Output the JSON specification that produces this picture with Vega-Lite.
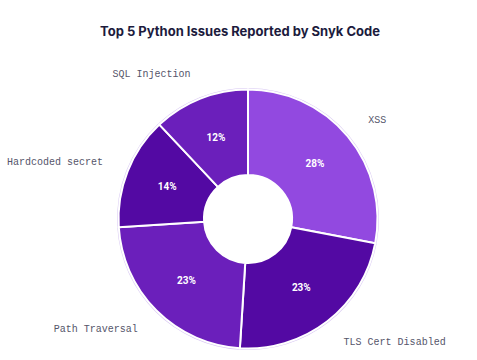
{
  "$schema": "https://vega.github.io/schema/vega-lite/v6.json",
  "width": 496,
  "height": 282,
  "autosize": {"type": "none"},
  "padding": {"top": 78, "left": 0, "right": 0, "bottom": 0},
  "background": "white",
  "title": {"text": "Top 5 Python Issues Reported by Snyk Code", "font": "Inter", "fontSize": 13, "fontWeight": 700, "color": "#1c1b3d", "anchor": "middle", "frame": "group", "offset": 30, "dx": -8},
  "data": {"values": [
    {"category": "XSS", "value": 0.28, "idx": 1},
    {"category": "TLS Cert Disabled", "value": 0.23, "idx": 2},
    {"category": "Path Traversal", "value": 0.23, "idx": 3},
    {"category": "Hardcoded secret", "value": 0.14, "idx": 4},
    {"category": "SQL Injection", "value": 0.12, "idx": 5}
  ]},
  "encoding": {
    "theta": {"field": "value", "type": "quantitative", "stack": true},
    "order": {"field": "idx", "type": "quantitative"}
  },
  "layer": [
    {"mark": {"type": "arc", "outerRadius": 131, "innerRadius": 44, "fill": "#d9c9f3"}},
    {"mark": {"type": "arc", "outerRadius": 129.5, "innerRadius": 44, "stroke": "white", "strokeWidth": 2},
     "encoding": {"color": {"field": "category", "type": "nominal", "legend": null,
       "scale": {"domain": ["XSS", "TLS Cert Disabled", "Path Traversal", "Hardcoded secret", "SQL Injection"],
                 "range": ["#9249e0", "#5309a3", "#6b1fbb", "#5309a3", "#6b1fbb"]}}}},
    {"mark": {"type": "text", "radius": 87, "fill": "white", "font": "Roboto", "fontSize": 10, "fontWeight": "bold", "baseline": "middle"},
     "encoding": {"text": {"field": "value", "type": "quantitative", "format": ".0%"}}},
    {"mark": {"type": "text", "radius": 156, "fill": "#55556a", "font": "Liberation Mono", "fontSize": 10, "baseline": "middle",
              "align": {"expr": "datum.category === 'XSS' || datum.category === 'TLS Cert Disabled' ? 'left' : 'right'"}},
     "encoding": {"text": {"field": "category", "type": "nominal"}}}
  ],
  "config": {"view": {"stroke": null}}
}
